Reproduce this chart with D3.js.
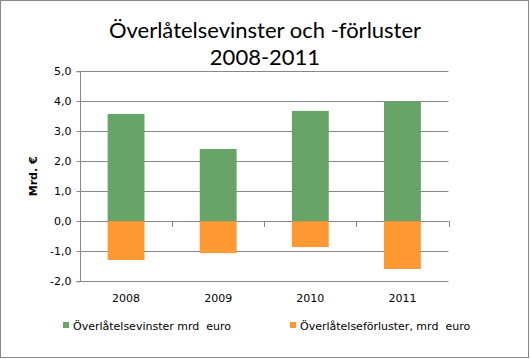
<!DOCTYPE html>
<html>
<head>
<meta charset="utf-8">
<script src="https://cdn.jsdelivr.net/npm/d3@7"></script>
<style>
  body { margin: 0; background: #fff; }
  text { fill: #000; }
</style>
</head>
<body>
<svg id="chart" width="530" height="359"></svg>
<script>
// data
const years = ['2008', '2009', '2010', '2011']
const gains = [3.58, 2.41, 3.68, 4.0]
const losses = [-1.29, -1.06, -0.86, -1.59]
const yTicks = [-2, -1, 0, 1, 2, 3, 4, 5]
const titleLines = ['Överlåtelsevinster och -förluster', '2008-2011']
const seriesNames = ['Överlåtelsevinster mrd  euro', 'Överlåtelseförluster, mrd  euro']
const colors = ['#66a467', '#ff9933']

const svg = d3.select('#chart')
const gridColor = '#878787'
const tickFont = 'Tahoma, "DejaVu Sans", sans-serif'

// outer frame
svg.append('rect')
  .attr('x', 0.5).attr('y', 0.5)
  .attr('width', 528).attr('height', 357)
  .attr('fill', 'white')
  .attr('stroke', gridColor)

// title
svg.append('g').selectAll('text')
  .data(titleLines)
  .join('text')
  .attr('x', 265)
  .attr('y', (d, i) => 38 + i * 27)
  .attr('text-anchor', 'middle')
  .attr('font-family', 'Lato, Carlito, sans-serif')
  .attr('font-size', 22)
  .text(d => d)

const plot = { left: 80, right: 448.5, top: 71.3, bottom: 281.3 }

const x = d3.scaleBand()
  .domain(years)
  .range([plot.left, plot.right])
  .paddingInner(0.6)
  .paddingOuter(0.3)

const y = d3.scaleLinear()
  .domain([-2, 5])
  .range([plot.bottom, plot.top])

// gridlines
svg.append('g')
  .selectAll('line')
  .data(yTicks)
  .join('line')
  .attr('x1', plot.left).attr('x2', plot.right)
  .attr('y1', d => Math.round(y(d)) + 0.5)
  .attr('y2', d => Math.round(y(d)) + 0.5)
  .attr('stroke', gridColor)
  .attr('stroke-width', 1)

// y axis
const yAxis = svg.append('g')
  .attr('transform', `translate(${plot.left + 0.5},0.5)`)
  .call(d3.axisLeft(y).tickValues(yTicks).tickSize(4).tickPadding(5)
    .tickFormat(d => d3.format('.1f')(d).replace('.', ',').replace('−', '-')))
yAxis.select('.domain').attr('stroke', gridColor).attr('d', `M-4,${y(5)}H0V${y(-2)}H-4`)
yAxis.selectAll('.tick line').attr('stroke', gridColor)
yAxis.selectAll('text')
  .attr('font-family', tickFont)
  .attr('font-size', 11)
  .attr('fill', '#000')
yAxis.selectAll('.tick').attr('transform', d => `translate(0,${Math.round(y(d))})`)

// y axis title
svg.append('text')
  .attr('transform', `translate(37,${y(1.5)}) rotate(-90)`)
  .attr('text-anchor', 'middle')
  .attr('font-family', tickFont)
  .attr('font-size', 11)
  .attr('font-weight', 'bold')
  .text('Mrd. €')

// bars
const bars = svg.append('g')
bars.selectAll('rect.gain')
  .data(years)
  .join('rect')
  .attr('class', 'gain')
  .attr('x', d => x(d))
  .attr('width', x.bandwidth())
  .attr('y', (d, i) => y(gains[i]))
  .attr('height', (d, i) => y(0) - y(gains[i]))
  .attr('fill', colors[0])
bars.selectAll('rect.loss')
  .data(years)
  .join('rect')
  .attr('class', 'loss')
  .attr('x', d => x(d))
  .attr('width', x.bandwidth())
  .attr('y', y(0))
  .attr('height', (d, i) => y(losses[i]) - y(0))
  .attr('fill', colors[1])

// category ticks on the zero line
const step = x.step()
const bounds = d3.range(years.length + 1).map(i => plot.left + i * step)
svg.append('g')
  .selectAll('line')
  .data(bounds)
  .join('line')
  .attr('x1', d => Math.round(d) + 0.5).attr('x2', d => Math.round(d) + 0.5)
  .attr('y1', Math.round(y(0))).attr('y2', Math.round(y(0)) + 6)
  .attr('stroke', gridColor)

// category labels
svg.append('g')
  .selectAll('text')
  .data(years)
  .join('text')
  .attr('x', d => x(d) + x.bandwidth() / 2)
  .attr('y', 302)
  .attr('text-anchor', 'middle')
  .attr('font-family', tickFont)
  .attr('font-size', 11)
  .text(d => d)

// legend
const legendX = [63, 290]
const legend = svg.append('g')
  .selectAll('g')
  .data(seriesNames)
  .join('g')
  .attr('transform', (d, i) => `translate(${legendX[i]},322)`)
legend.append('rect')
  .attr('width', 6).attr('height', 6)
  .attr('fill', (d, i) => colors[i])
legend.append('text')
  .attr('x', 10)
  .attr('y', 8)
  .attr('font-family', tickFont)
  .attr('font-size', 11)
  .style('white-space', 'pre')
  .text(d => d)
</script>
</body>
</html>
